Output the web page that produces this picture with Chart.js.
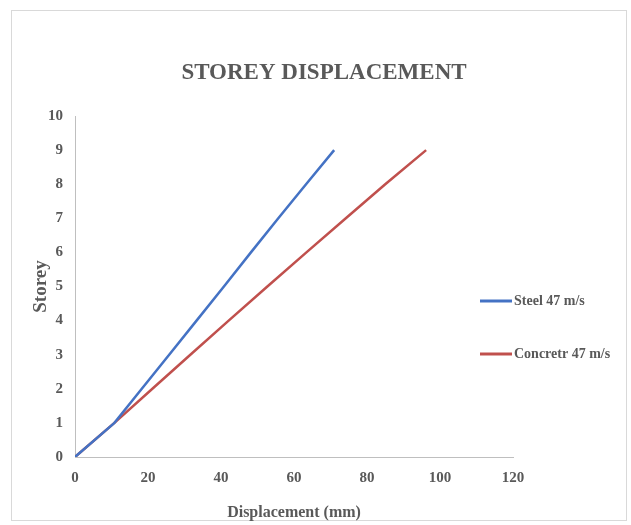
<!DOCTYPE html>
<html>
<head>
<meta charset="utf-8">
<title>Storey Displacement</title>
<script src="https://cdn.jsdelivr.net/npm/chart.js@4"></script>
<style>
  html, body { margin: 0; padding: 0; background: #fff; }
  #wrap { width: 631px; height: 525px; position: relative; }
</style>
</head>
<body>
<div id="wrap"><canvas id="my-chart" width="631" height="525"></canvas></div>
<script>
'use strict';

// *********** DATA ****************
let storeys = [0, 1, 2, 3, 4, 5, 6, 7, 8, 9];
let steelDisp = [0, 10.8, 18.3, 25.8, 33.3, 40.8, 48.2, 55.7, 63.3, 71];
let concreteDisp = [0, 10.8, 21.2, 31.6, 42.1, 52.7, 63.4, 74.2, 85, 96.2];
let seriesNames = ['Steel 47 m/s', 'Concretr 47 m/s'];
let seriesColors = ['#4472C4', '#C0504D'];
let xTicks = [0, 20, 40, 60, 80, 100, 120];
let yTicks = [0, 1, 2, 3, 4, 5, 6, 7, 8, 9, 10];

let textColor = '#595959';
let serif = '"Liberation Serif", "Times New Roman", serif';

function toPoints(xs){
  let pts = [];
  for(let i=0;i<storeys.length;i++){
    pts.push({x: xs[i], y: storeys[i]});
  }
  return pts;
}

// ********** DECOR PLUGIN (frame, title, legend) *********
let decorPlugin = {
  id: 'decor',
  beforeDraw(chart){
    let c = chart.ctx;
    c.save();
    c.fillStyle = '#fff';
    c.fillRect(0, 0, chart.width, chart.height);
    c.strokeStyle = '#d9d9d9';
    c.lineWidth = 1;
    c.strokeRect(11.5, 10.5, 615, 510);
    c.restore();
  },
  afterDraw(chart){
    let c = chart.ctx;
    c.save();
    // title
    c.fillStyle = textColor;
    c.font = 'bold 23px ' + serif;
    c.textAlign = 'center';
    c.textBaseline = 'middle';
    c.fillText('STOREY DISPLACEMENT', 324, 73);
    // legend
    let legendY = [301, 354];
    c.font = 'bold 14px ' + serif;
    c.textAlign = 'left';
    chart.data.datasets.forEach(function(ds, i){
      c.strokeStyle = ds.borderColor;
      c.lineWidth = 3;
      c.beginPath();
      c.moveTo(480, legendY[i]);
      c.lineTo(512, legendY[i]);
      c.stroke();
      c.fillText(ds.label, 514, legendY[i]);
    });
    c.restore();
  }
};

// *********** RENDER CHART ****************
let ctx = document.getElementById('my-chart').getContext('2d');

new Chart(ctx, {
  type: 'line',
  data: {
    datasets: [{
      label: seriesNames[0],
      data: toPoints(steelDisp),
      borderColor: seriesColors[0],
      backgroundColor: seriesColors[0],
      borderWidth: 2.5,
      pointRadius: 0,
      tension: 0
    },
    {
      label: seriesNames[1],
      data: toPoints(concreteDisp),
      borderColor: seriesColors[1],
      backgroundColor: seriesColors[1],
      borderWidth: 2.5,
      pointRadius: 0,
      tension: 0
    }]
  },
  options: {
    responsive: false,
    animation: false,
    layout: { padding: { top: 116, left: 20, right: 118, bottom: 0 } },
    plugins: {
      legend: { display: false },
      title: { display: false },
      tooltip: { enabled: false }
    },
    scales: {
      x: {
        type: 'linear',
        min: 0,
        max: 120,
        afterBuildTicks: function(scale){
          scale.ticks = xTicks.map(function(v){ return {value: v}; });
        },
        afterFit: function(scale){ scale.height = 68; },
        grid: { display: true, drawOnChartArea: false, drawTicks: false },
        border: { display: true, color: '#bfbfbf', width: 1 },
        ticks: { padding: 12, color: textColor, font: { family: serif, size: 15, weight: 'bold' } },
        title: {
          display: true,
          text: 'Displacement (mm)',
          color: textColor,
          font: { family: serif, size: 16, weight: 'bold' },
          padding: { top: 0, bottom: 3 }
        }
      },
      y: {
        type: 'linear',
        min: 0,
        max: 10,
        afterBuildTicks: function(scale){
          scale.ticks = yTicks.map(function(v){ return {value: v}; });
        },
        afterFit: function(scale){ scale.width = 55; },
        grid: { display: true, drawOnChartArea: false, drawTicks: false },
        border: { display: true, color: '#bfbfbf', width: 1 },
        ticks: { padding: 12, color: textColor, font: { family: serif, size: 15, weight: 'bold' } },
        title: {
          display: true,
          text: 'Storey',
          color: textColor,
          font: { family: serif, size: 19, weight: 'bold' },
          padding: { top: 10, bottom: 0 }
        }
      }
    }
  },
  plugins: [decorPlugin]
});
</script>
</body>
</html>
